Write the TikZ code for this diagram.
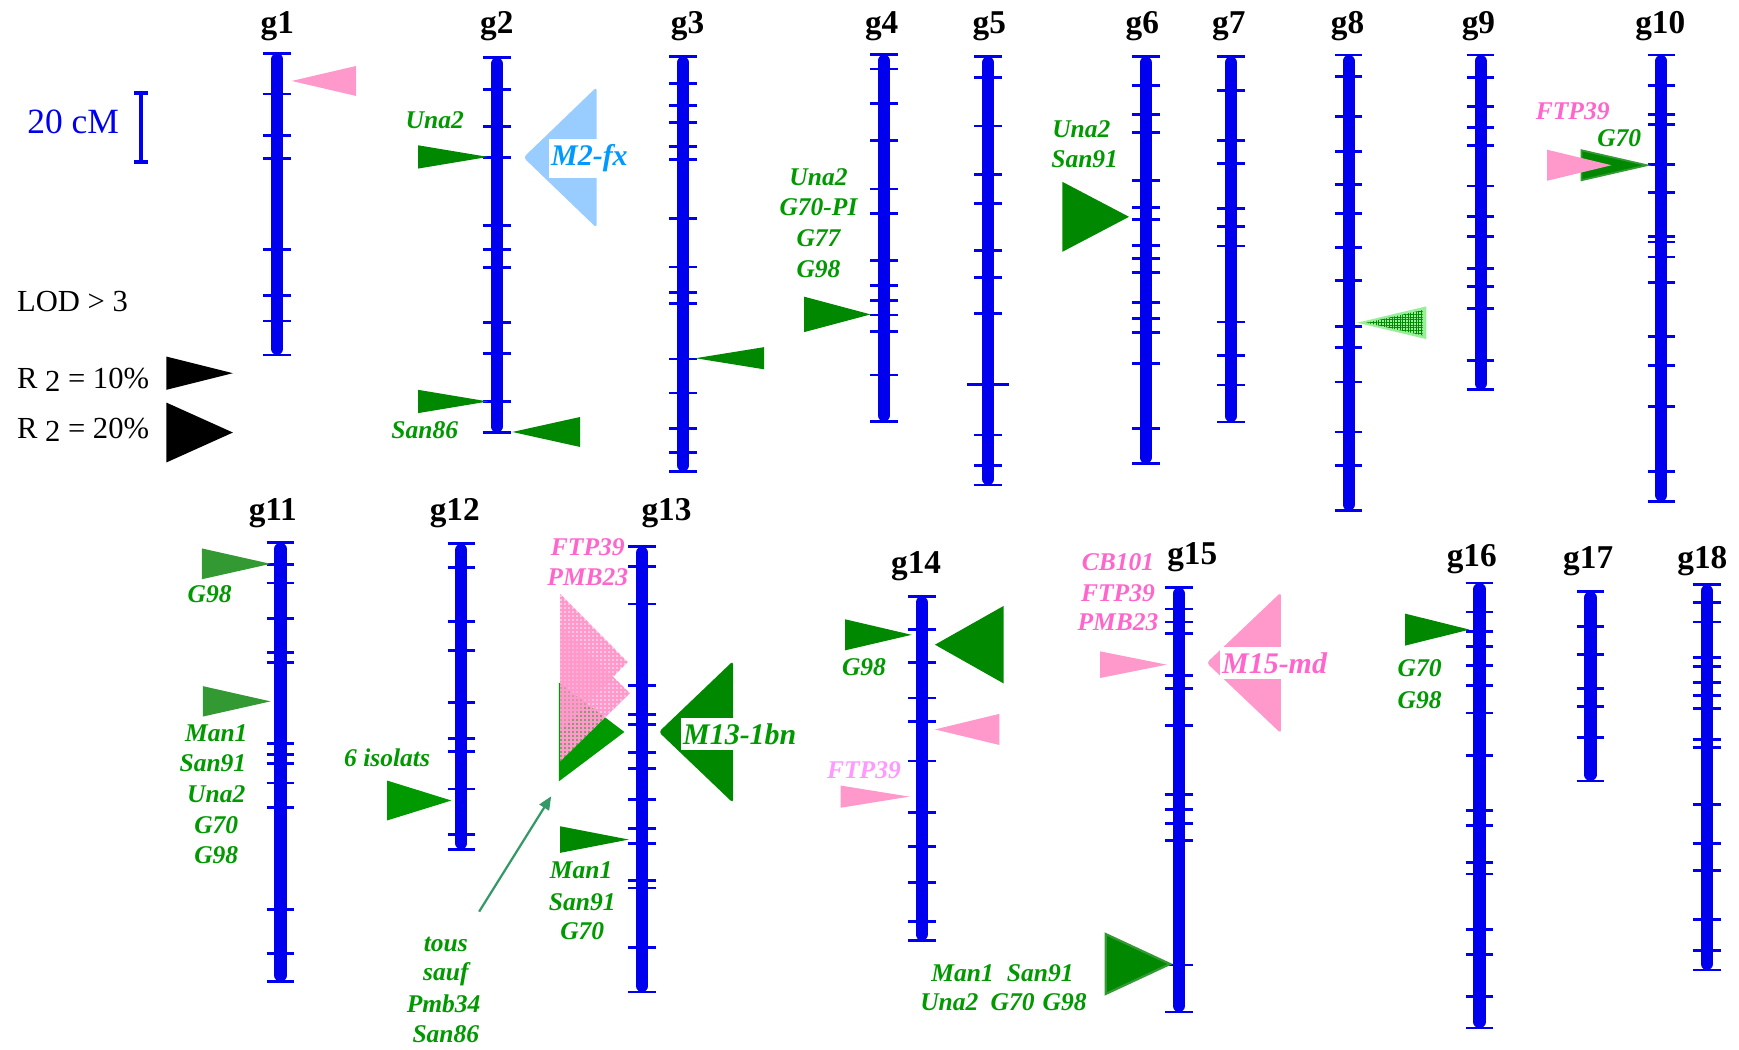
\documentclass[tikz,border=0pt]{standalone}
\usepackage{fontspec}
\setmainfont{Liberation Serif}
\usetikzlibrary{arrows.meta,patterns.meta}
\definecolor{barblue}{RGB}{0,0,238}
\definecolor{tgreen}{RGB}{0,136,0}
\definecolor{lgreen}{RGB}{0,153,0}
\definecolor{mgreen}{RGB}{51,153,51}
\definecolor{tpink}{RGB}{255,153,204}
\definecolor{pinktext}{RGB}{255,102,204}
\definecolor{lpinktext}{RGB}{255,153,255}
\definecolor{lblue}{RGB}{153,204,255}
\definecolor{bluetext}{RGB}{0,153,255}
\definecolor{arrowgreen}{RGB}{51,153,102}
\definecolor{hgreen}{RGB}{153,238,153}
\newcommand\chromo[4]{%
  \draw[barline] (#1,#2+5.5) -- (#1,#3-5.5);
  \foreach \t in {#2,#3,#4}{\draw[tickline] (#1-12.5,\t) -- (#1+12.5,\t);}}
\newcommand\qtri[5]{\path[#1] (#2,#3) -- (#4,#3-#5) -- (#4,#3+#5) -- cycle;}
\begin{document}
\begin{tikzpicture}[x=0.5pt,y=-0.5pt,
  barline/.style={line width=5.5pt,line cap=round,barblue},
  tickline/.style={line width=1.25pt,barblue},
  glab/.style={font=\fontsize{11.5}{12}\selectfont\bfseries\itshape,text=lgreen,inner sep=0pt},
  plab/.style={glab,text=pinktext},
  chlab/.style={font=\fontsize{15}{16}\selectfont\bfseries,inner sep=0pt,anchor=base},
  biglab/.style={font=\fontsize{13.5}{14}\selectfont\bfseries\itshape,fill=white,inner xsep=0.8pt,inner ysep=2.5pt,anchor=west},
  legtxt/.style={font=\fontsize{13.8}{14}\selectfont,inner sep=0pt,anchor=west},
  gtri/.style={fill=tgreen},
  ptri/.style={fill=tpink},
  btri/.style={fill=black},
  bigtri/.style={rounded corners=1.5pt},
  pinkhatch/.style={pattern={Hatch[distance=1.8pt,line width=0.9pt]},pattern color=tpink}]
\useasboundingbox (0,0) rectangle (1568,946);

% ---------------- chromosomes, top row
\chromo{250}{48}{320}{84.8,122.3,143,224.8,266.7,289.5}
\chromo{448}{52}{390}{81,114.4,141.9,203.4,225.2,241,290.9,318.4,362.2}
\chromo{616}{51}{425}{75.6,94.8,110.6,132.4,144.1,196.7,240.7,264,273.8,323.8,354.3,386.5,408.1}
\chromo{797}{49.3}{380}{62.2,93.6,126.8,170.4,192.2,234.7,257.7,270.9,284,299,338.1}
\chromo{891}{51}{437.4}{69.7,113.6,157,183.6,226,250.5,282.5,392.2,420}
\draw[tickline] (891-19,346.8) -- (891+19,346.8);
\chromo{1033}{51}{418}{77.4,103.4,119.6,162.9,186.8,197.9,221.5,232.9,246,272.6,287,299.9,328,386.5}
\chromo{1110}{51}{380.6}{81.6,127,147.4,188,204.2,221.8,290.3,320.5,347.1}
\chromo{1216}{49.6}{460.4}{68.8,104.9,136.9,166.2,192.2,223,252.6,294.5,313.3,344.4,389.5,420}
\chromo{1335}{49.6}{351.3}{69.7,96.3,115.1,131.2,167.7,195.2,212.9,242.2,258,278.3,325}
\chromo{1498}{49.6}{452}{77.4,103.4,112.4,148.3,173.4,212.9,218.2,231.7,255,303.4,329.4,366.2,425.4}

% ---------------- chromosomes, bottom row
\chromo{253}{489.4}{885}{509.3,525.7,557.6,588.2,597.1,670.3,680.4,688.3,706,728.1,820.3,859.7}
\chromo{416}{490.4}{765.7}{511.5,560.5,586.7,633.4,665.6,677.6,711.4,752.4}
\chromo{579}{492.9}{894.5}{510.9,544.7,618.2,644.1,653,678.8,693,720.8,747,760.3,794.1,800.7,854.4}
\chromo{831}{537.7}{848}{567.7,597.7,629.3,650.4,686.1,732.8,763.4,795.6,830.7}
\chromo{1063}{529.8}{912.5}{549.1,560.8,570.9,609.4,620.7,654.5,716.1,729.7,742.3,758.1,870.1}
\chromo{1334}{525.7}{927}{551.9,569.3,582.9,600.2,618.2,642.8,681,730.9,744.5,777.7,788.1,838,860.4,898.6}
\chromo{1434}{533.3}{704.1}{564.9,590.1,621.1,637.2,664.9}
\chromo{1539}{527.3}{874.6}{543.1,560.8,593,600.9,615.4,627.1,638.7,666.5,673.8,725.6,760.6,785.2,828.8,857.2}

% ---------------- chromosome labels
\node[chlab] (g1)  at (250,30) {g1};
\node[chlab] (g2)  at (448,30) {g2};
\node[chlab] (g3)  at (620,30) {g3};
\node[chlab] (g4)  at (795,30) {g4};
\node[chlab] (g5)  at (892,30) {g5};
\node[chlab] (g6)  at (1030,30) {g6};
\node[chlab] (g7)  at (1108,30) {g7};
\node[chlab] (g8)  at (1215,30) {g8};
\node[chlab] (g9)  at (1333,30) {g9};
\node[chlab] (g10) at (1497,30) {g10};
\node[chlab] (g11) at (246,469) {g11};
\node[chlab] (g12) at (410,469) {g12};
\node[chlab] (g13) at (601,469) {g13};
\node[chlab] (g14) at (826,517) {g14};
\node[chlab] (g15) at (1075,509) {g15};
\node[chlab] (g16) at (1327,511) {g16};
\node[chlab] (g17) at (1432,513) {g17};
\node[chlab] (g18) at (1535,513) {g18};

% ---------------- legend
\node[font=\fontsize{16}{17}\selectfont,text=barblue,inner sep=0pt] (scale) at (66,109.7) {20 cM};
\draw[barblue,line width=2pt] (127,84) -- (127,146);
\draw[barblue,line width=1.8pt] (121,84) -- (133,84) (121,146) -- (133,146);
\node[legtxt] (lod) at (15,272) {LOD > 3};
\node[legtxt] (r10) at (15,342.7) {R \raisebox{-1.2pt}{2} = 10\%};
\node[legtxt] (r20) at (15,387.8) {R \raisebox{-1.2pt}{2} = 20\%};
\qtri{btri}{210}{336.5}{150}{15}
\qtri{btri}{210}{390}{150}{27}

% ---------------- QTL triangles, top row
\qtri{ptri}{263}{73}{321}{13.5}
\qtri{gtri}{440}{141.5}{377}{10.5}
\qtri{gtri}{440}{362}{377}{10.5}
\qtri{gtri}{462}{389.5}{523}{13.5}
\qtri{fill=lblue,bigtri}{472}{142}{538}{63.5}
\qtri{gtri}{627}{323}{689}{10}
\qtri{gtri}{785}{283.5}{725}{16}
\qtri{gtri}{1018}{195.5}{958}{31.5}
\qtri{fill=hgreen,draw=hgreen,line width=1pt}{1228}{291}{1285}{13.5}
\qtri{pattern={Hatch[distance=1.2pt,line width=0.45pt]},pattern color=tgreen}{1232}{291}{1283}{11.5}
\qtri{fill=tgreen,draw=mgreen,line width=0.8pt}{1485}{149}{1426}{13.5}
\qtri{ptri}{1453}{149}{1395}{14}

% ---------------- QTL triangles, bottom row
\qtri{fill=mgreen}{244}{508.4}{182}{13.9}
\qtri{fill=mgreen}{244}{632.4}{183}{13.7}
\qtri{fill=lgreen}{407}{721.8}{349}{18}
\qtri{fill=lgreen}{563}{660}{504}{44.5}
\qtri{fill=tpink,fill opacity=0.55}{566}{597}{505}{61.6}
\qtri{fill=tpink,fill opacity=0.55}{568}{625}{505}{61.6}
\qtri{pinkhatch}{566}{597}{505}{61.6}
\qtri{pinkhatch}{568}{625}{505}{61.6}
\qtri{gtri}{567}{757}{505}{12}
\qtri{gtri,bigtri}{594}{660}{661}{64}
\qtri{gtri}{822}{572.4}{762}{14}
\qtri{gtri}{843}{581.3}{905}{35}
\qtri{ptri}{843}{657.7}{901}{14}
\qtri{ptri}{820}{718.3}{758}{10}
\qtri{ptri}{1052}{599.3}{992}{12}
\qtri{ptri,bigtri}{1088}{597.7}{1155}{63.6}
\qtri{fill=tgreen,draw=mgreen,line width=1pt}{1055}{869.2}{997}{27}
\qtri{gtri}{1325}{567.7}{1267}{14.4}

% ---------------- big QTL labels
\node[biglab,text=bluetext] (m2fx) at (495,143) {M2-fx};
\node[biglab,text=lgreen] (m13) at (614,662) {M13-1bn};
\node[biglab,text=pinktext] (m15) at (1100,597.7) {M15-md};

% ---------------- isolate labels, top row
\node[glab] (t2a) at (392,108.2) {Una2};
\node[glab] (t2b) at (383,387.8) {San86};
\node[glab] (t4a) at (738,159.9) {Una2};
\node[glab] (t4b) at (738,187) {G70-PI};
\node[glab] (t4c) at (738,214.9) {G77};
\node[glab] (t4d) at (738,242.9) {G98};
\node[glab] (t6a) at (975,116.6) {Una2};
\node[glab] (t6b) at (978,143.7) {San91};
\node[plab] (t10a) at (1418,100.7) {FTP39};
\node[glab] (t10b) at (1460,124.7) {G70};

% ---------------- isolate labels, bottom row
\node[glab] (t11a) at (189,535.5) {G98};
\node[glab] (t11b) at (195,660.8) {Man1};
\node[glab] (t11c) at (192,688.3) {San91};
\node[glab] (t11d) at (195,716.1) {Una2};
\node[glab] (t11e) at (195,743.9) {G70};
\node[glab] (t11f) at (195,771.3) {G98};
\node[glab] (t12a) at (349,683) {6 isolats};
\node[glab] (tous) at (402,851.2) {tous};
\node[glab] (sauf) at (402,878.7) {sauf};
\node[glab] (pmb) at (400,905.5) {Pmb34};
\node[glab] (san) at (402,932.3) {San86};
\node[plab] (t13a) at (530,493.5) {FTP39};
\node[plab] (t13b) at (530,520.4) {PMB23};
\node[glab] (t13c) at (524,784.9) {Man1};
\node[glab] (t13d) at (525,813.3) {San91};
\node[glab] (t13e) at (525,839.8) {G70};
\node[glab] (t14a) at (779,601.8) {G98};
\node[glab,text=lpinktext] (t14b) at (779,694) {FTP39};
\node[plab] (t15a) at (1008,507.1) {CB101};
\node[plab] (t15b) at (1008,534.6) {FTP39};
\node[plab] (t15c) at (1008,561.4) {PMB23};
\node[glab] (t15d) at (868,877.1) {Man1};
\node[glab] (t15e) at (938,877.1) {San91};
\node[glab] (t15f) at (856,903.9) {Una2};
\node[glab] (t15g) at (913,903.9) {G70};
\node[glab] (t15h) at (960,903.9) {G98};
\node[glab] (t16a) at (1280,602.4) {G70};
\node[glab] (t16b) at (1280,630.9) {G98};

% ---------------- arrow
\coordinate (arS) at (432,822);
\coordinate (arE) at (497,718);
\draw[arrowgreen,line width=1pt,-{Triangle[length=6pt,width=5pt]}] (arS) -- (arE);
\end{tikzpicture}
\end{document}
